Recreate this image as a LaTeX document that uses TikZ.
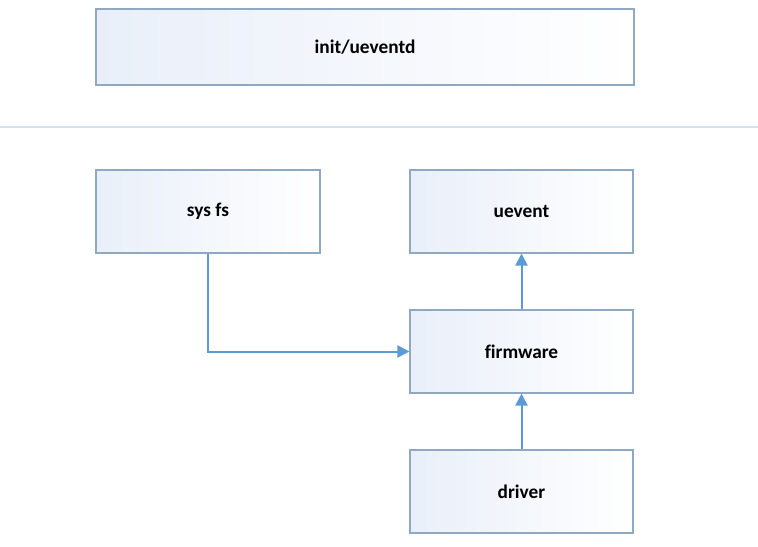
\documentclass[tikz,border=0pt]{standalone}
\usepackage{fontspec}
\setmainfont{Carlito}[Ligatures=NoCommon]
\usetikzlibrary{arrows.meta, positioning}
\definecolor{cedge}{HTML}{8EA9C1}
\definecolor{cfill}{HTML}{E9EFF9}
\definecolor{carrow}{HTML}{5B9BD5}
\definecolor{csep}{HTML}{D5E3EC}
\tikzset{
  every picture/.style={font=\bfseries\fontsize{14.5}{17}\selectfont, line width=0.9pt},
  box/.style={draw=cedge, left color=cfill, right color=white, line width=0.8pt, minimum height=83*0.75pt, inner sep=0pt},
  arrow/.style={-{Triangle[length=9pt, width=9pt]}, draw=carrow, line width=1.5pt},
}
\begin{document}
\begin{tikzpicture}[x=0.75pt, y=-0.75pt]
  \useasboundingbox (0,0) rectangle (758,547);
  \node[box, minimum width=538*0.75pt, minimum height=76*0.75pt] (init) at (365,47) {init/ueventd};
  \draw[csep, line width=1.5pt] (0,127) coordinate (sl) -- (758,127) coordinate (sr);
  \node[box, minimum width=224*0.75pt] (sysfs) at (208,211.5) {sys fs};
  \node[box, minimum width=223*0.75pt] (uevent) at (521.5,211.5) {uevent};
  \node[box, minimum width=223*0.75pt] (fw) at (521.5,351.5) {firmware};
  \node[box, minimum width=223*0.75pt] (drv) at (521.5,491.5) {driver};
  \draw[arrow] (sysfs.south) |- (fw.west);
  \draw[arrow] (fw.north) -- (uevent.south);
  \draw[arrow] (drv.north) -- (fw.south);
\end{tikzpicture}
\end{document}
